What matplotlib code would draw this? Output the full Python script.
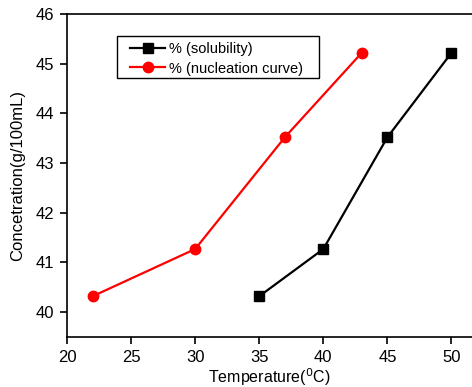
import matplotlib
matplotlib.use("Agg")
import matplotlib.pyplot as plt
from matplotlib.patches import Rectangle

plt.rcParams['font.family'] = ['Liberation Sans', 'DejaVu Sans']

temp_solubility = [35, 40, 45, 50]
conc_solubility = [40.32, 41.27, 43.52, 45.22]
temp_nucleation = [22, 30, 37, 43]
conc_nucleation = [40.32, 41.27, 43.52, 45.22]
x_ticks = [20, 25, 30, 35, 40, 45, 50]
y_ticks = [40, 41, 42, 43, 44, 45, 46]

fig = plt.figure(figsize=(4.72, 3.87), dpi=100)
ax = fig.add_axes([67/472, 1 - 337/387, 1 - 67/472, (337 - 14)/387])

ax.plot(temp_solubility, conc_solubility, color='black', marker='s', markersize=7,
        linewidth=1.6, label='% (solubility)')
ax.plot(temp_nucleation, conc_nucleation, color='#ff0000', marker='o', markersize=7.5,
        linewidth=1.6, label='% (nucleation curve)')

ax.set_xlim(20, 51.6)
ax.set_ylim(39.5, 46)
ax.set_xticks(x_ticks)
ax.set_yticks(y_ticks)
ax.spines['right'].set_visible(False)
for s in ['left', 'bottom', 'top']:
    ax.spines[s].set_linewidth(1.2)
ax.tick_params(direction='out', length=5, width=1.2, labelsize=12, pad=4)
ax.set_xlabel('Temperature($^{0}$C)', fontsize=11.5, labelpad=1)
ax.set_ylabel('Concetration(g/100mL)', fontsize=12, labelpad=8)

leg = ax.legend(loc='upper left', bbox_to_anchor=((130 - 67)/405, 1 - (42 - 14)/323),
                fontsize=10.5, frameon=False, handlelength=2.4, borderpad=0,
                labelspacing=0.38, handletextpad=0.3, borderaxespad=0)
ax.add_patch(Rectangle(((117 - 67)/405, 1 - (78 - 14)/323), (319 - 117)/405, (78 - 36)/323,
                       transform=ax.transAxes, fill=False, edgecolor='black',
                       linewidth=1.0, zorder=5))

fig.savefig('out.png', dpi=100)
